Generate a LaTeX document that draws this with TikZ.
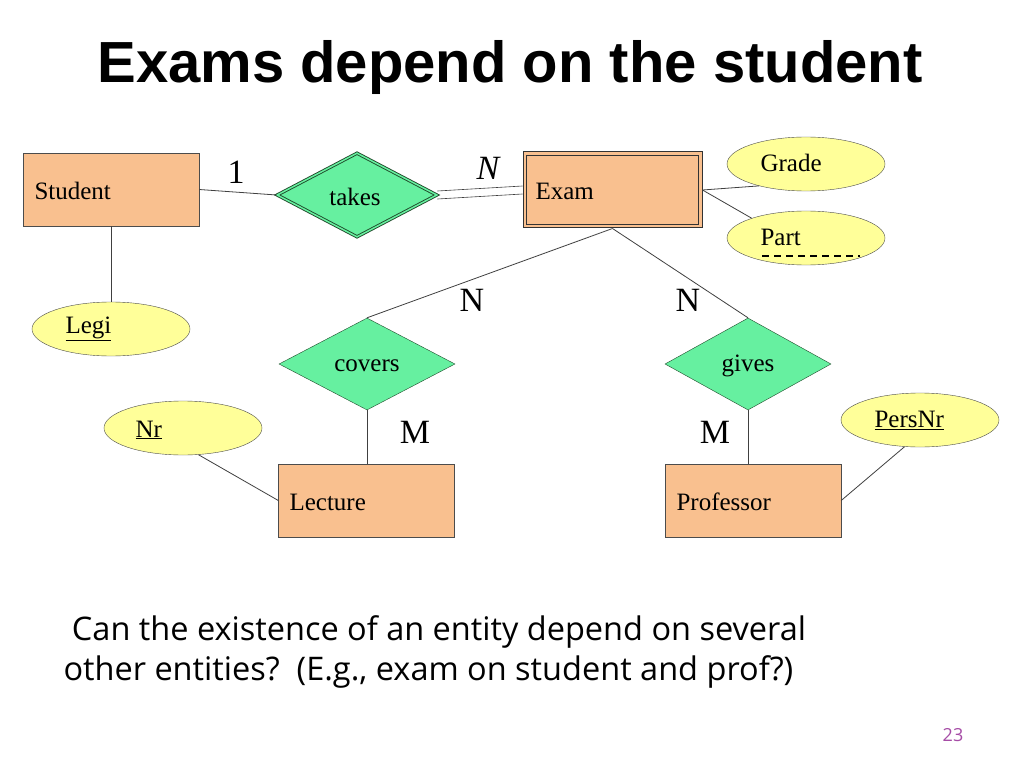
\documentclass[tikz,border=0pt]{standalone}
\usepackage{fontspec}
\setmainfont{Liberation Serif}
\newfontfamily\titlefont{Liberation Sans}
\newfontfamily\bodyfont{Open Sans}
\usetikzlibrary{shapes.geometric}
\definecolor{ent}{HTML}{F9C08F}
\definecolor{rel}{HTML}{66F0A0}
\definecolor{att}{HTML}{FFFF99}
\definecolor{dgreen}{HTML}{1F4A2A}
\begin{document}
\begin{tikzpicture}[x=1pt,y=-1pt,
  entbox/.style={draw=black!70,fill=ent,minimum width=176pt,minimum height=73pt,inner sep=0pt},
  relbox/.style={diamond,draw=dgreen,fill=rel,inner sep=0pt,aspect=1.9},
  attbox/.style={ellipse,draw=black!70,fill=att,minimum width=158pt,minimum height=54pt,inner sep=0pt},
  lbl/.style={font=\fontsize{25}{30}\selectfont,anchor=west},
  card/.style={font=\fontsize{34}{38}\selectfont},
  ln/.style={draw=black!75,line width=0.8pt}]
\useasboundingbox[fill=white] (0,0) rectangle (1024,767);
\node[font=\titlefont\bfseries\fontsize{58}{62}\selectfont] (title) at (510,68) {Exams depend on the student};
% entities
\node[entbox] (student) at (111,189.5) {};
\node[entbox,minimum width=179pt,minimum height=76pt,draw=black!80,line width=1pt] (exam) at (612.5,190) {};
\node[draw=black!80,minimum width=172pt,minimum height=69pt,inner sep=0pt,line width=0.8pt] (examin) at (612.5,190) {};
\node[entbox] (lecture) at (366.5,500.5) {};
\node[entbox] (prof) at (753,500.5) {};
% relationships
\node[relbox,minimum width=160pt,minimum height=84pt,double=rel,double distance=1.5pt,line width=0.9pt] (takes) at (357,195) {};
\node[relbox,minimum width=176pt,minimum height=92pt] (covers) at (367,364) {};
\node[relbox,minimum width=166pt,minimum height=92pt] (gives) at (748,364) {};
% attributes
\node[attbox] (grade) at (806,164) {};
\node[attbox] (part) at (806,238) {};
\node[attbox] (legi) at (111,329) {};
\node[attbox] (nr) at (183,428) {};
\node[attbox] (persnr) at (920,420) {};
% texts
\node[lbl] (tstudent) at (31,191) {Student};
\node[lbl] (texam) at (532,191) {Exam};
\node[lbl] (tlecture) at (286,502) {Lecture};
\node[lbl] (tprof) at (673,502) {Professor};
\node[lbl,anchor=center] (ttakes) at (355,197) {takes};
\node[lbl,anchor=center] (tcovers) at (367,366) {covers};
\node[lbl,anchor=center] (tgives) at (748,366) {gives};
\node[lbl] (tgrade) at (757,163) {Grade};
\node[lbl] (tpart) at (757,237) {Part};
\draw[line width=1.2pt,dash pattern=on 7pt off 5pt] (762,256) -- (860,256);
\node[lbl] (tlegi) at (62,329) {\underline{Legi}};
\node[lbl] (tnr) at (132,430) {\underline{Nr}};
\node[lbl] (tpersnr) at (871,420) {\underline{PersNr}};
% connectors
\draw[ln] (student.east) -- (takes.west);
\draw[draw=black!75,line width=0.6pt] ([yshift=-4pt]takes.east) -- ([yshift=-4pt]exam.west);
\draw[draw=black!75,line width=0.6pt] ([yshift=4pt]takes.east) -- ([yshift=4pt]exam.west);
\draw[ln] (student.south) -- (legi.north);
\draw[ln] (exam.south) -- (covers.north);
\draw[ln] (exam.south) -- (gives.north);
\draw[ln] (covers.south) -- (covers.south |- lecture.north);
\draw[ln] (gives.south) -- (gives.south |- prof.north);
\draw[ln] (nr.-60) -- (lecture.west);
\draw[ln] (persnr.-120) -- (prof.east);
\draw[ln] (exam.east) -- (grade.205);
\draw[ln] (exam.east) -- (part.160);
% cardinalities
\node[card] (c1) at (236,172) {1};
\node[card,font=\itshape\fontsize{34}{38}\selectfont] (c2) at (488,168) {N};
\node[card] (c3) at (472,300) {N};
\node[card] (c4) at (688,300) {N};
\node[card] (c5) at (415,432) {M};
\node[card] (c6) at (715,432) {M};
% bottom text
\node[font=\bodyfont\fontsize{32.5}{40}\selectfont,align=left,anchor=north west] (q) at (60,612) {\ Can the existence of an entity depend on several\\other entities?\ \ (E.g., exam on student and prof?)};
\node[font=\bodyfont\fontsize{18}{20}\selectfont,text=violet!70] (pg) at (953,735) {23};
\end{tikzpicture}
\end{document}
